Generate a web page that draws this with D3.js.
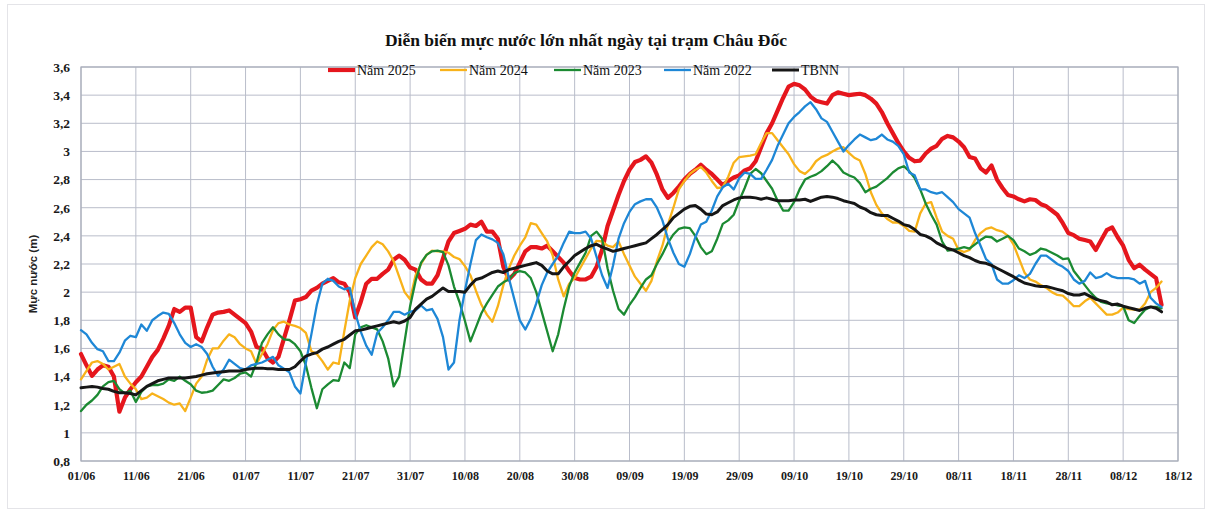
<!DOCTYPE html>
<html>
<head>
<meta charset="utf-8">
<script src="https://cdn.jsdelivr.net/npm/d3@7"></script>
<style>
  html, body { margin: 0; padding: 0; background: #ffffff; }
  svg { display: block; }
</style>
</head>
<body>
<svg id="chart" width="1211" height="513"></svg>
<script>
// ---------------- DATA (daily maxima, 01/06 → 15/12) ----------------
const startDay = "2025-06-01";
const xTickLabels = ["01/06","11/06","21/06","01/07","11/07","21/07","31/07","10/08","20/08","30/08",
  "09/09","19/09","29/09","09/10","19/10","29/10","08/11","18/11","28/11","08/12","18/12"];
const yTicks = [0.8,1,1.2,1.4,1.6,1.8,2,2.2,2.4,2.6,2.8,3,3.2,3.4,3.6];
const seriesNames = ["Năm 2025","Năm 2024","Năm 2023","Năm 2022","TBNN"];

const nam2025 = [
  1.56,1.48,1.405,1.45,1.48,1.47,1.40,1.15,1.25,1.31,
  1.36,1.40,1.47,1.54,1.59,1.67,1.76,1.88,1.86,1.89,
  1.89,1.68,1.65,1.75,1.84,1.855,1.86,1.87,1.84,1.81,
  1.78,1.72,1.61,1.60,1.53,1.50,1.54,1.67,1.80,1.94,
  1.95,1.965,2.01,2.03,2.06,2.08,2.10,2.07,2.06,2.00,
  1.82,1.93,2.06,2.095,2.095,2.13,2.16,2.23,2.26,2.23,
  2.175,2.16,2.09,2.06,2.06,2.12,2.24,2.36,2.42,2.435,
  2.45,2.48,2.47,2.50,2.43,2.43,2.38,2.18,2.09,2.13,
  2.21,2.29,2.32,2.32,2.31,2.33,2.29,2.25,2.21,2.15,
  2.10,2.09,2.09,2.11,2.18,2.30,2.47,2.58,2.69,2.79,
  2.87,2.925,2.94,2.965,2.92,2.835,2.73,2.67,2.705,2.75,
  2.80,2.84,2.87,2.905,2.87,2.84,2.80,2.76,2.79,2.815,
  2.83,2.865,2.88,2.93,3.03,3.13,3.20,3.29,3.38,3.46,
  3.48,3.47,3.44,3.39,3.36,3.35,3.34,3.40,3.42,3.41,
  3.40,3.405,3.41,3.40,3.375,3.34,3.28,3.20,3.13,3.06,
  3.00,2.955,2.93,2.935,2.985,3.02,3.04,3.09,3.11,3.10,
  3.07,3.03,2.96,2.95,2.88,2.85,2.90,2.80,2.74,2.69,
  2.68,2.66,2.645,2.66,2.655,2.625,2.61,2.58,2.55,2.49,
  2.42,2.405,2.38,2.37,2.36,2.30,2.37,2.44,2.46,2.39,
  2.33,2.23,2.17,2.195,2.16,2.13,2.10,1.91
];
const nam2024 = [
  1.38,1.44,1.50,1.51,1.49,1.45,1.47,1.49,1.40,1.35,
  1.31,1.24,1.25,1.28,1.26,1.24,1.215,1.20,1.21,1.155,
  1.25,1.35,1.40,1.52,1.60,1.60,1.655,1.70,1.68,1.63,
  1.60,1.58,1.49,1.56,1.63,1.73,1.78,1.79,1.77,1.76,
  1.745,1.71,1.58,1.56,1.51,1.45,1.50,1.49,1.72,1.94,
  2.10,2.20,2.26,2.32,2.36,2.34,2.29,2.22,2.11,2.00,
  1.95,2.12,2.20,2.265,2.295,2.29,2.29,2.28,2.25,2.235,
  2.185,2.12,2.01,1.91,1.84,1.79,1.90,2.05,2.17,2.26,
  2.33,2.39,2.49,2.48,2.42,2.36,2.26,2.09,1.97,2.06,
  2.10,2.17,2.24,2.31,2.365,2.36,2.33,2.32,2.36,2.27,
  2.19,2.11,2.06,2.01,2.08,2.22,2.33,2.48,2.60,2.73,
  2.79,2.84,2.87,2.89,2.85,2.79,2.74,2.745,2.82,2.92,
  2.96,2.965,2.97,2.98,3.06,3.13,3.13,3.08,3.03,2.98,
  2.91,2.86,2.84,2.875,2.93,2.96,2.975,3.00,3.02,3.03,
  2.99,2.955,2.935,2.84,2.71,2.62,2.56,2.52,2.495,2.495,
  2.47,2.435,2.43,2.56,2.63,2.64,2.53,2.43,2.40,2.38,
  2.30,2.285,2.30,2.37,2.42,2.45,2.46,2.44,2.43,2.40,
  2.34,2.24,2.14,2.09,2.075,2.05,2.03,2.00,1.98,1.975,
  1.94,1.90,1.90,1.935,1.96,1.92,1.88,1.84,1.84,1.855,
  1.89,1.88,1.875,1.875,1.92,2.00,2.03,2.075
];
const nam2023 = [
  1.155,1.20,1.23,1.27,1.33,1.36,1.37,1.31,1.28,1.30,
  1.22,1.29,1.33,1.34,1.34,1.35,1.38,1.37,1.40,1.37,
  1.345,1.30,1.285,1.29,1.30,1.34,1.38,1.37,1.39,1.42,
  1.43,1.40,1.50,1.64,1.70,1.75,1.70,1.665,1.66,1.63,
  1.58,1.48,1.32,1.175,1.31,1.345,1.375,1.37,1.50,1.46,
  1.70,1.75,1.765,1.75,1.735,1.65,1.53,1.33,1.40,1.65,
  1.90,2.08,2.21,2.265,2.29,2.295,2.285,2.19,2.04,1.93,
  1.795,1.65,1.75,1.85,1.92,1.98,2.04,2.07,2.09,2.135,
  2.15,2.14,2.10,2.00,1.86,1.72,1.58,1.70,1.88,2.04,
  2.14,2.21,2.28,2.40,2.43,2.38,2.17,2.01,1.88,1.84,
  1.91,1.965,2.03,2.09,2.12,2.20,2.27,2.35,2.41,2.45,
  2.46,2.455,2.40,2.32,2.27,2.29,2.38,2.485,2.51,2.55,
  2.65,2.74,2.84,2.875,2.845,2.79,2.735,2.65,2.58,2.58,
  2.64,2.73,2.80,2.82,2.835,2.86,2.895,2.935,2.90,2.85,
  2.83,2.815,2.775,2.71,2.735,2.75,2.78,2.81,2.85,2.88,
  2.895,2.86,2.81,2.73,2.63,2.55,2.48,2.36,2.295,2.30,
  2.31,2.32,2.31,2.34,2.37,2.395,2.39,2.36,2.38,2.40,
  2.37,2.31,2.29,2.265,2.28,2.31,2.30,2.28,2.26,2.235,
  2.24,2.15,2.10,2.05,2.00,1.96,1.93,1.92,1.915,1.905,
  1.90,1.80,1.78,1.83,1.875,1.895,1.895,1.885
];
const nam2022 = [
  1.73,1.70,1.64,1.595,1.58,1.51,1.51,1.57,1.655,1.69,
  1.68,1.77,1.725,1.80,1.83,1.855,1.845,1.78,1.70,1.64,
  1.61,1.63,1.61,1.56,1.47,1.405,1.45,1.52,1.49,1.46,
  1.45,1.48,1.49,1.50,1.52,1.54,1.48,1.455,1.43,1.33,
  1.28,1.50,1.70,1.91,2.06,2.095,2.08,2.04,2.02,2.03,
  1.85,1.72,1.62,1.555,1.71,1.75,1.80,1.86,1.86,1.84,
  1.86,1.87,1.905,1.87,1.88,1.81,1.68,1.45,1.50,1.80,
  2.01,2.20,2.37,2.41,2.39,2.375,2.35,2.27,2.10,1.95,
  1.80,1.735,1.81,1.92,2.05,2.14,2.20,2.26,2.35,2.43,
  2.42,2.42,2.43,2.38,2.25,2.12,2.03,2.19,2.38,2.49,
  2.57,2.625,2.645,2.66,2.66,2.60,2.51,2.38,2.28,2.20,
  2.18,2.27,2.39,2.48,2.50,2.58,2.68,2.745,2.77,2.73,
  2.81,2.85,2.84,2.805,2.805,2.87,2.94,3.04,3.12,3.20,
  3.245,3.28,3.32,3.35,3.30,3.235,3.21,3.14,3.07,3.00,
  3.045,3.085,3.12,3.10,3.08,3.09,3.12,3.085,3.07,3.04,
  2.98,2.85,2.83,2.73,2.73,2.71,2.70,2.71,2.675,2.64,
  2.59,2.56,2.53,2.42,2.33,2.235,2.20,2.09,2.06,2.06,
  2.085,2.12,2.10,2.13,2.20,2.26,2.26,2.23,2.20,2.18,
  2.15,2.09,2.06,2.08,2.14,2.10,2.11,2.135,2.11,2.10,
  2.10,2.10,2.09,2.06,2.08,1.96,1.92,1.895
];
const tbnn = [
  1.32,1.325,1.33,1.325,1.315,1.31,1.295,1.285,1.285,1.28,
  1.27,1.30,1.33,1.35,1.37,1.38,1.39,1.39,1.39,1.39,
  1.395,1.40,1.41,1.42,1.425,1.43,1.435,1.44,1.44,1.44,
  1.45,1.455,1.46,1.46,1.455,1.455,1.45,1.45,1.45,1.47,
  1.51,1.545,1.56,1.57,1.595,1.61,1.63,1.65,1.665,1.695,
  1.725,1.73,1.74,1.75,1.76,1.77,1.78,1.79,1.78,1.795,
  1.82,1.88,1.915,1.95,1.97,2.00,2.03,2.005,2.005,2.005,
  2.00,2.05,2.09,2.10,2.12,2.14,2.15,2.14,2.16,2.17,
  2.18,2.19,2.20,2.21,2.19,2.15,2.13,2.13,2.18,2.22,
  2.26,2.285,2.31,2.33,2.34,2.32,2.305,2.29,2.30,2.31,
  2.32,2.33,2.34,2.35,2.38,2.41,2.445,2.48,2.53,2.56,
  2.59,2.61,2.615,2.59,2.555,2.55,2.57,2.615,2.635,2.655,
  2.67,2.675,2.675,2.67,2.66,2.67,2.66,2.65,2.65,2.65,
  2.655,2.655,2.66,2.645,2.66,2.675,2.68,2.675,2.665,2.65,
  2.64,2.63,2.605,2.59,2.565,2.55,2.545,2.545,2.525,2.505,
  2.48,2.47,2.445,2.41,2.40,2.38,2.35,2.33,2.31,2.30,
  2.28,2.26,2.245,2.225,2.21,2.205,2.19,2.17,2.15,2.13,
  2.11,2.085,2.065,2.055,2.045,2.04,2.04,2.03,2.02,2.01,
  1.99,1.98,1.98,1.99,1.97,1.95,1.94,1.93,1.91,1.915,
  1.90,1.89,1.88,1.87,1.885,1.895,1.885,1.86
];

// ---------------- CHART ----------------
const svg = d3.select("#chart");
const W = 1211, H = 513;
const m = { left: 81, right: 1178, top: 67, bottom: 461 };

const parse = d3.timeParse("%Y-%m-%d");
const t0 = parse(startDay);
const dayDate = i => d3.timeDay.offset(t0, i);
const xTickDates = xTickLabels.map((_, i) => dayDate(i * 10));

const x = d3.scaleTime().domain([t0, dayDate(200)]).range([m.left, m.right]);
const y = d3.scaleLinear().domain([0.8, 3.6]).range([m.bottom, m.top]);

const vn = d3.formatLocale({ decimal: ",", thousands: ".", grouping: [3], currency: ["", ""] });
const fmtY = vn.format(".1~f");

// faint page frame (scanned look)
svg.append("rect").attr("x", 7.5).attr("y", 4.5).attr("width", 1197).attr("height", 504)
  .attr("fill", "none").attr("stroke", "#e4e4e8").attr("stroke-width", 1);

// gridlines
const gridColor = "#b9bdca";
svg.append("g").attr("class", "ygrid").selectAll("line").data(yTicks).join("line")
  .attr("x1", m.left).attr("x2", m.right)
  .attr("y1", d => y(d)).attr("y2", d => y(d))
  .attr("stroke", gridColor).attr("stroke-width", 1);
svg.append("g").attr("class", "xgrid").selectAll("line").data(xTickDates).join("line")
  .attr("x1", d => x(d)).attr("x2", d => x(d))
  .attr("y1", m.top).attr("y2", m.bottom)
  .attr("stroke", gridColor).attr("stroke-width", 1);
svg.append("rect").attr("x", m.left).attr("y", m.top)
  .attr("width", m.right - m.left).attr("height", m.bottom - m.top)
  .attr("fill", "none").attr("stroke", "#a9adb9").attr("stroke-width", 1.2);

// axes (labels)
const xAxis = d3.axisBottom(x).tickValues(xTickDates)
  .tickFormat((d, i) => xTickLabels[i]).tickSize(0).tickPadding(10);
const gx = svg.append("g").attr("transform", `translate(0,${m.bottom})`).call(xAxis);
gx.select(".domain").remove();
gx.selectAll("text").attr("font-family", "'Liberation Serif', 'Times New Roman', serif")
  .attr("font-weight", "bold").attr("font-size", 12).attr("fill", "#1a1a1a");

const yAxis = d3.axisLeft(y).tickValues(yTicks).tickFormat(fmtY).tickSize(0).tickPadding(11);
const gy = svg.append("g").attr("transform", `translate(${m.left},0)`).call(yAxis);
gy.select(".domain").remove();
gy.selectAll("text").attr("font-family", "'Liberation Serif', 'Times New Roman', serif")
  .attr("font-weight", "bold").attr("font-size", 13.5).attr("fill", "#1a1a1a");

// y axis title
svg.append("text")
  .attr("transform", `translate(37,${(m.top + m.bottom) / 2 + 10}) rotate(-90)`)
  .attr("text-anchor", "middle")
  .attr("font-family", "'Liberation Sans', Arial, sans-serif")
  .attr("font-weight", "bold").attr("font-size", 11.5).attr("fill", "#222")
  .text("Mực nước (m)");

// title
svg.append("text").attr("x", 586).attr("y", 46).attr("text-anchor", "middle")
  .attr("font-family", "'Liberation Serif', 'Times New Roman', serif")
  .attr("font-weight", "bold").attr("font-size", 17.5).attr("fill", "#111")
  .text("Diễn biến mực nước lớn nhất ngày tại trạm Châu Đốc");

// series
const allSeries = [
  { name: seriesNames[0], values: nam2025, color: "#e5161d", width: 4.2 },
  { name: seriesNames[1], values: nam2024, color: "#f8b21a", width: 2.3 },
  { name: seriesNames[2], values: nam2023, color: "#1b8a32", width: 2.3 },
  { name: seriesNames[3], values: nam2022, color: "#1e87d6", width: 2.3 },
  { name: seriesNames[4], values: tbnn,    color: "#161616", width: 3.0 }
];

const line = d3.line()
  .x((d, i) => x(dayDate(i)))
  .y(d => y(d))
  .curve(d3.curveLinear);

const order = [0, 1, 2, 3, 4];
svg.append("g").selectAll("path").data(order.map(i => allSeries[i])).join("path")
  .attr("d", s => line(s.values))
  .attr("fill", "none")
  .attr("stroke", s => s.color)
  .attr("stroke-width", s => s.width)
  .attr("stroke-linejoin", "round")
  .attr("stroke-linecap", "round");

// legend
const legendX = [328, 440, 554, 664, 772];
const lg = svg.append("g").attr("class", "legend");
allSeries.forEach((s, i) => {
  const g = lg.append("g").attr("transform", `translate(${legendX[i]},70)`);
  g.append("line").attr("x1", 0).attr("x2", 27).attr("y1", 0).attr("y2", 0)
    .attr("stroke", s.color).attr("stroke-width", s.width);
  g.append("text").attr("x", 29).attr("y", 4.5)
    .attr("font-family", "'Liberation Serif', 'Times New Roman', serif")
    .attr("font-size", 14).attr("fill", "#111")
    .text(s.name);
});
</script>
</body>
</html>
